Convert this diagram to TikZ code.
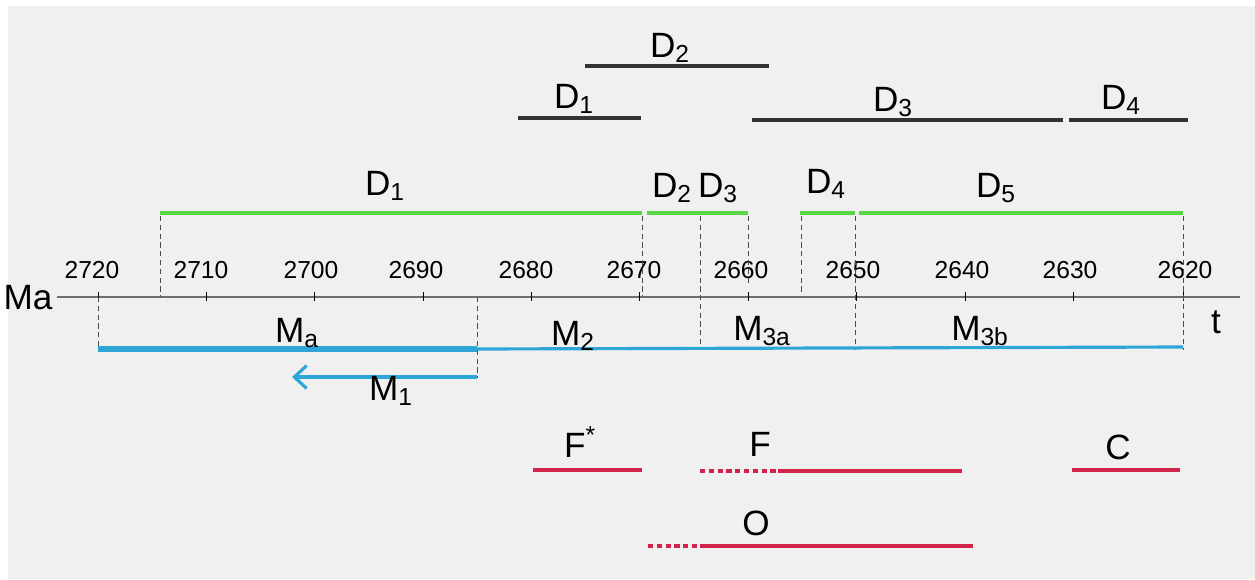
\documentclass[tikz,border=0pt]{standalone}
\usepackage{fontspec}
\setmainfont{Liberation Sans}
\usetikzlibrary{arrows.meta}
\definecolor{paper}{RGB}{240,240,240}
\definecolor{dgreen}{RGB}{90,215,70}
\definecolor{dblue}{RGB}{45,165,215}
\definecolor{dred}{RGB}{210,35,75}
\definecolor{axisgray}{RGB}{110,110,110}
\begin{document}
\begin{tikzpicture}[x=0.02cm,y=-0.02cm,
  lab/.style={font=\fontsize{20}{22}\selectfont},
  num/.style={font=\fontsize{14}{16}\selectfont},
  cut/.style={densely dashed,thin,black!70},
  blk/.style={line width=2.6pt,black!80},
  grn/.style={line width=2.6pt,dgreen},
  blu/.style={line width=1.8pt,dblue},
  rd/.style={line width=2.2pt,dred}]
\useasboundingbox (0,0) rectangle (1255,579);
\fill[white] (0,0) rectangle (1255,579);
\fill[paper] (8,6) rectangle (1255,579);

% time axis
\draw[axisgray,line width=0.8pt] (57,297)--(1240,297);
\draw (28,298) node[lab] {Ma};
\draw (1216,322) node[lab] {t};
\draw (98,292)--(98,301);   \draw (92,270) node[num] {2720};
\draw (206,292)--(206,301); \draw (201,270) node[num] {2710};
\draw (314,292)--(314,301); \draw (311,270) node[num] {2700};
\draw (423,292)--(423,301); \draw (416,270) node[num] {2690};
\draw (531,292)--(531,301); \draw (526,270) node[num] {2680};
\draw (639,292)--(639,301); \draw (634,270) node[num] {2670};
\draw (748,292)--(748,301); \draw (741,270) node[num] {2660};
\draw (856,292)--(856,301); \draw (853,270) node[num] {2650};
\draw (965,292)--(965,301); \draw (962,270) node[num] {2640};
\draw (1073,292)--(1073,301); \draw (1070,270) node[num] {2630};
\draw (1183,292)--(1183,301); \draw (1185,270) node[num] {2620};

% dashed cuts
\draw[cut] (160,216)--(160,297);
\draw[cut] (642,216)--(642,297);
\draw[cut] (700,216)--(700,350);
\draw[cut] (748,216)--(748,285);
\draw[cut] (801,216)--(801,293);
\draw[cut] (855,216)--(855,350);
\draw[cut] (1183,216)--(1183,350);
\draw[cut] (98,297)--(98,350);
\draw[cut] (477,297)--(477,378);

% upper black bars
\draw[blk] (585,66)--(769,66);
\draw (670,48) node[lab] {D\textsubscript{2}};
\draw[blk] (518,118)--(641,118);
\draw (574,99) node[lab] {D\textsubscript{1}};
\draw[blk] (752,120)--(1063,120);
\draw (893,102) node[lab] {D\textsubscript{3}};
\draw[blk] (1069,120)--(1188,120);
\draw (1121,100) node[lab] {D\textsubscript{4}};

% green bars
\draw[grn] (160,213)--(642,213);
\draw (385,186) node[lab] {D\textsubscript{1}};
\draw[grn] (647,213)--(748,213);
\draw (672,188) node[lab] {D\textsubscript{2}};
\draw (718,188) node[lab] {D\textsubscript{3}};
\draw[grn] (800,213)--(855,213);
\draw (826,184) node[lab] {D\textsubscript{4}};
\draw[grn] (859,213)--(1183,213);
\draw (996,188) node[lab] {D\textsubscript{5}};

% blue bars
\draw[blu,line width=3.4pt] (98,349)--(477,349);
\draw[blu] (477,349)--(1183,347);
\draw (297,333) node[lab] {M\textsubscript{a}};
\draw (573,336) node[lab] {M\textsubscript{2}};
\draw (762,331) node[lab] {M\textsubscript{3a}};
\draw (980,331) node[lab] {M\textsubscript{3b}};
\draw[blu,-{Straight Barb[length=7pt,width=13pt]}] (477,377)--(292,377);
\draw (391,391) node[lab] {M\textsubscript{1}};

% red bars
\draw[rd] (533,470)--(642,470);
\draw (580,442) node[lab] {F\textsuperscript{*}};
\draw[rd,densely dashed] (700,471)--(778,471);
\draw[rd] (778,471)--(962,471);
\draw (760,444) node[lab] {F};
\draw[rd] (1072,470)--(1180,470);
\draw (1118,447) node[lab] {C};
\draw[rd,densely dashed] (648,546)--(700,546);
\draw[rd] (700,546)--(973,546);
\draw (756,523) node[lab] {O};
\end{tikzpicture}
\end{document}
